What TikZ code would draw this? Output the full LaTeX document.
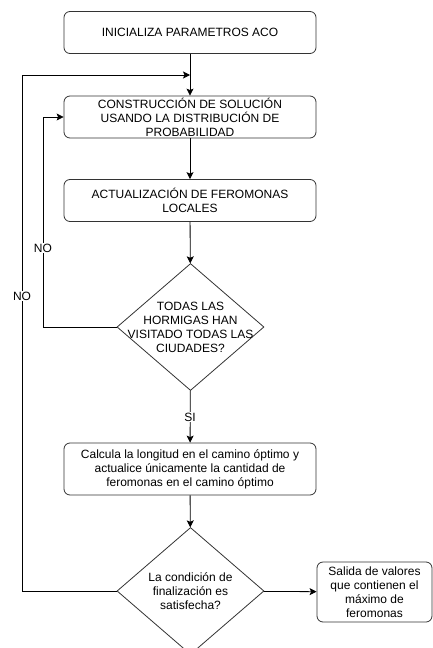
\documentclass[tikz,border=0pt]{standalone}
\usepackage{fontspec}
\setmainfont{Liberation Sans}
\usepackage{tikz}
\usetikzlibrary{arrows.meta,positioning,shapes.geometric}
\newcommand{\flowfont}{\fontsize{12}{14}\selectfont}

\begin{document}
\begin{tikzpicture}[x=1pt, y=-1pt,
    proc/.style={draw=black!80, line width=0.8pt, rounded corners=6pt, minimum width=252pt,
                 minimum height=42pt, inner sep=0pt, align=center, font=\flowfont},
    decision/.style={draw=black!80, line width=0.8pt, diamond, minimum width=147pt,
                 minimum height=127pt, inner sep=0pt},
    dtext/.style={align=center, font=\flowfont, inner sep=0pt},
    flow/.style={draw=black, line width=0.8pt, -{Stealth[length=7pt, width=7pt, inset=1.5pt]}},
    lbl/.style={fill=white, inner sep=1pt, font=\flowfont}]
    \clip (0,0) rectangle (433,648);

    % Main column
    \node[proc] (init) at (190,32.5) {INICIALIZA PARAMETROS ACO};
    \node[proc] (build) at (190,117) {CONSTRUCCIÓN DE SOLUCIÓN\\USANDO LA DISTRIBUCIÓN DE\\PROBABILIDAD};
    \node[proc] (local) at (190,200.5) {ACTUALIZACIÓN DE FEROMONAS\\LOCALES};
    \node[decision] (allv) at (190.5,327) {};
    \node[dtext] (allvtext) at (allv) {TODAS LAS\\HORMIGAS HAN\\VISITADO TODAS LAS\\CIUDADES?};
    \node[proc, minimum height=52pt] (best) at (190,469) {Calcula la longitud en el camino óptimo y\\actualice únicamente la cantidad de\\feromonas en el camino óptimo};
    \node[decision] (stop) at (190.5,591) {};
    \node[dtext] (stoptext) at (stop) {La condición de\\finalización es\\satisfecha?};

    % Output
    \node[proc, minimum width=115pt, minimum height=60pt] (out) at (374.5,592) {Salida de valores\\que contienen el\\máximo de\\feromonas};

    % Connectors
    \coordinate (inner) at (43,117);
    \coordinate (outer) at (22,75);
    \draw[flow] (init) -- (build);
    \draw[flow] (build) -- (local);
    \draw[flow] (local) -- (allv);
    \draw[flow] (allv) -- (best);
    \draw[flow] (best) -- (stop);
    \draw[flow] (stop) -- (out);
    \draw[flow] (allv.west) -| (inner) -- (build.west);
    \draw[flow] (stop.west) -| (outer) -- (init.south |- outer);

    % Labels
    \node[lbl] (noinner) at (43,248) {NO};
    \node[lbl] (noouter) at (22,296) {NO};
    \node[lbl] (si) at (190,417) {SI};
\end{tikzpicture}
\end{document}
